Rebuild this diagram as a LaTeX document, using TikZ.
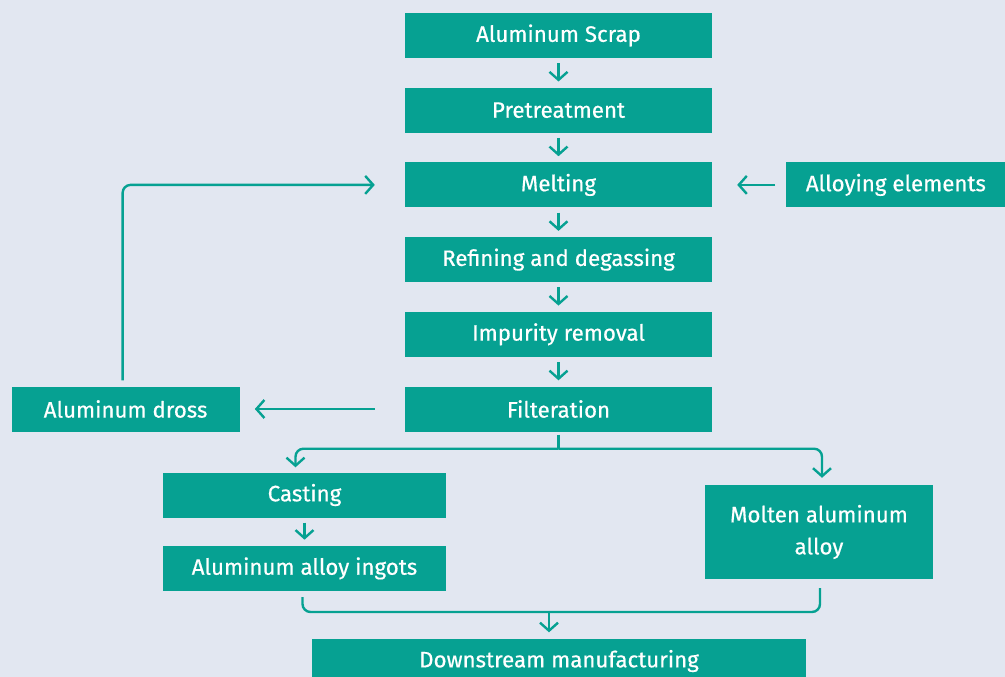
\documentclass[tikz,border=0pt]{standalone}
\usepackage{fontspec}
\setmainfont{Fira Sans}
\newfontfamily\boxfont{Fira Sans}[FakeBold=0.5]
\usetikzlibrary{arrows.meta,positioning}
\definecolor{pagebg}{HTML}{E2E7F1}
\definecolor{procteal}{HTML}{06A192}

\begin{document}
\begin{tikzpicture}[
    x=1pt, y=-1pt,
    node distance=29.3pt and 30pt,
    stepbox/.style={fill=procteal, text=white, inner sep=0pt, align=center,
        minimum width=307pt, minimum height=45pt, font=\boxfont\fontsize{22.3}{32}\selectfont},
    sidebox/.style={stepbox, minimum width=228pt},
    link/.style={draw=procteal, line width=2.4pt, rounded corners=8pt},
    flow/.style={link, -{Straight Barb[length=8pt, width=18pt, line width=2.4pt]}},
    shortflow/.style={flow, shorten <=5pt, shorten >=6pt}
]
\fill[pagebg] (0,0) rectangle (1005,677);
\useasboundingbox (0,0) rectangle (1005,677);
\node[stepbox] (scrap) at (558.5,35.5) {Aluminum Scrap};
\node[stepbox, below=of scrap] (pretreat) {Pretreatment};
\node[stepbox, below=of pretreat] (melting) {Melting};
\node[stepbox, below=of melting] (refining) {Refining and degassing};
\node[stepbox, below=of refining] (impurity) {Impurity removal};
\node[stepbox, below=of impurity] (filter) {Filteration};
\node[sidebox, minimum width=219pt, right=74pt of melting] (alloying) {Alloying elements};
\node[sidebox, left=165pt of filter] (dross) {Aluminum dross};
\node[stepbox, minimum width=283pt] (casting) at (304.5,495) {Casting};
\node[stepbox, minimum width=283pt, below=28pt of casting] (ingots) {Aluminum alloy ingots};
\node[sidebox, minimum height=94pt] (molten) at (819,532) {Molten aluminum\\alloy};
\node[stepbox, minimum width=494pt] (downstream) at (559,661) {Downstream manufacturing};
\path (filter.south) ++(0,17) coordinate (split);
\coordinate (merge) at (549,612);
\draw[shortflow] (scrap) -- (pretreat);
\draw[shortflow] (pretreat) -- (melting);
\draw[shortflow] (melting) -- (refining);
\draw[shortflow] (refining) -- (impurity);
\draw[shortflow] (impurity) -- (filter);
\draw[shortflow] (casting) -- (ingots);
\draw[flow, shorten <=11pt, shorten >=25pt] (alloying.west) -- (melting.east);
\draw[flow, shorten <=30pt, shorten >=15pt] (filter.west) -- (dross.east);
\draw[flow, shorten <=6pt, shorten >=30pt] ([xshift=-3pt]dross.north) |- (melting.west);
\draw[link, shorten <=3pt] (filter.south) -- (split);
\draw[flow, shorten >=5pt] (split) -| ([xshift=-9pt]casting.north);
\draw[flow, shorten >=7pt] (split) -| ([xshift=3pt]molten.north);
\draw[link, shorten <=6pt] ([xshift=-2pt]ingots.south) |- (merge);
\draw[link, shorten <=9pt] ([xshift=1pt]molten.south) |- (merge);
\draw[flow, shorten >=6pt] (merge) -- (merge |- downstream.north);
\end{tikzpicture}
\end{document}
